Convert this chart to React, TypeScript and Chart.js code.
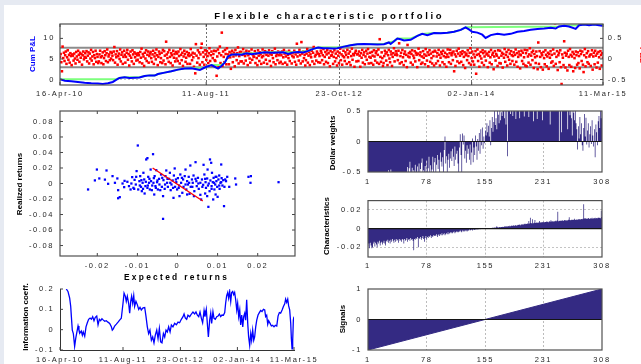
import React, { useEffect, useRef } from 'react';
import { Chart, registerables } from 'chart.js';

Chart.register(...registerables);

// ---------- DATA ----------
const dateLabels = ['16-Apr-10', '11-Aug-11', '23-Oct-12', '02-Jan-14', '11-Mar-15'];
const dateTickDays = [0, 482, 921, 1357, 1790];
const cumTicks = [0, 5, 10];
const pnlTicks = [-0.5, 0, 0.5];

// cumulative P&L: [calendar day, value]
const cumPnl: [number, number][] = [
  [0, 0.05], [16, -0.3], [37, -0.4], [59, -0.6], [81, -0.8], [103, -0.93], [125, -0.95], [141, -1.1], [158, -0.93],
  [174, -0.6], [185, -0.1], [196, 0.37], [213, 0.53], [229, 0.37], [246, 0.45], [262, 0.5], [279, 0.85], [295, 1.0],
  [312, 0.95], [323, 1.34], [345, 1.67], [367, 2.0], [389, 2.4], [411, 2.65], [433, 2.73], [450, 2.5], [461, 2.3],
  [472, 2.73], [483, 3.1], [500, 3.5], [510, 3.1], [521, 2.65], [532, 3.3], [543, 4.1], [554, 5.57], [565, 6.05],
  [582, 6.13], [598, 6.05], [615, 6.4], [631, 6.13], [653, 6.4], [675, 6.6], [697, 6.5], [719, 6.55], [736, 6.6],
  [752, 6.2], [769, 6.6], [785, 6.7], [802, 6.55], [818, 6.95], [835, 7.44], [851, 7.76], [868, 7.6], [884, 7.6],
  [901, 7.55], [914, 7.6], [936, 8.0], [958, 8.33], [980, 8.57], [1002, 8.65], [1024, 8.57], [1046, 8.5], [1068, 8.57],
  [1084, 9.0], [1090, 8.65], [1101, 9.3], [1112, 9.96], [1123, 9.8], [1134, 9.5], [1156, 9.65], [1178, 10.6],
  [1194, 11.1], [1211, 10.8], [1233, 11.3], [1255, 11.25], [1277, 11.4], [1299, 11.6], [1321, 12.07], [1337, 12.7],
  [1348, 12.2], [1359, 11.6], [1376, 11.4], [1392, 10.9], [1403, 10.1], [1420, 10.8], [1442, 11.1], [1464, 10.9],
  [1486, 11.1], [1508, 11.6], [1530, 11.8], [1552, 12.1], [1574, 12.3], [1596, 12.4], [1618, 12.56], [1634, 12.4],
  [1645, 12.9], [1662, 13.05], [1678, 12.9], [1700, 12.3], [1711, 13.2], [1728, 13.37], [1744, 13.2], [1761, 13.4],
  [1777, 13.2], [1788, 13.05],
];

// running high-water mark of the cumulative P&L
const highWater: [number, number][] = [
  [0, 0.05], [185, 0.05], [196, 0.37], [213, 0.53], [262, 0.53], [279, 0.85], [295, 1.0], [312, 1.0], [323, 1.34],
  [345, 1.67], [367, 2.0], [389, 2.4], [411, 2.65], [433, 2.73], [472, 2.73], [483, 3.1], [500, 3.5], [532, 3.5],
  [543, 4.1], [554, 5.57], [565, 6.05], [582, 6.13], [615, 6.4], [653, 6.4], [675, 6.6], [769, 6.6], [785, 6.7],
  [818, 6.95], [835, 7.44], [851, 7.76], [914, 7.76], [936, 8.0], [958, 8.33], [980, 8.57], [1002, 8.65], [1068, 8.65],
  [1084, 9.0], [1101, 9.3], [1112, 9.96], [1156, 9.96], [1178, 10.6], [1194, 11.1], [1233, 11.3], [1277, 11.4],
  [1299, 11.6], [1321, 12.07], [1337, 12.7], [1645, 12.9], [1662, 13.05], [1711, 13.2], [1728, 13.37], [1761, 13.4],
  [1790, 13.4],
];

// daily P&L (right axis), in time order
const dailyPnl: number[] = [
  .05, .12, -.08, -.3, .3, .02, .15, -.05, .09, .18, -.12, .04, .21, -.02, .1, -.09, .14, .07, -.15, .11,
  .08, -.04, .13, .01, -.11, .17, .06, -.02, .2, .1, -.07, .15, .03, .12, -.14, .09, .18, -.01, .05, .14,
  .03, .19, -.06, .08, .16, -.11, .13, .01, .22, -.04, .06, .17, -.13, .09, .02, .2, -.07, .12, .05, -.1,
  -.06, .11, .2, .04, -.1, .07, .16, -.13, .02, .19, .09, -.05, .14, .23, -.08, .06, .11, -.03, .17, .01,
  .15, .08, -.03, .18, .29, -.09, .11, .04, .19, -.14, .07, .13, 0, .23, -.06, .1, .16, -.12, .05, .2,
  .1, -.09, .05, .15, .22, -.02, .12, -.16, .08, .18, .03, -.06, .21, .11, -.12, .16, .04, .13, -.04, .09,
  -.02, .14, .09, -.08, .17, .03, .25, -.11, .12, .06, -.17, .15, .01, .21, -.05, .1, .18, -.09, .07, .13,
  .17, .02, -.07, .11, .2, -.12, .06, .14, -.01, .23, .09, -.15, .05, .18, .12, -.08, .02, .15, -.1, .22,
  -.04, .19, .08, -.13, .42, .11, .02, .16, -.07, .22, .05, -.1, .14, .09, -.16, .2, .03, .12, -.06, .17,
  .01, .13, -.05, .18, .07, -.11, .24, .1, -.03, .15, -.17, .06, .2, .12, -.07, .03, .17, -.12, .09, .14,
  .07, -.12, .24, .1, -.03, .15, .04, -.19, .13, -.35, .36, .08, -.09, .21, .02, .16, -.14, .11, .27, .37,
  -.08, .16, .05, -.14, .21, .11, -.02, .19, .07, -.1, .14, .26, -.05, .09, .18, -.16, .02, .12, .2, -.03,
  -.05, .19, -.41, .06, .23, -.2, .14, .3, -.1, .09, .64, -.17, .18, .05, -.08, .22, .12, -.13, .26, .03,
  .11, -.13, .17, .04, -.24, .13, .2, -.08, .06, .15, -.18, .22, .09, -.03, .14, .28, -.11, .07, .17, -.06,
  .17, -.06, .1, .24, -.11, .15, .07, -.04, .2, .12, -.15, .09, .18, .01, -.09, .14, .23, -.02, .11, .06,
  .05, .19, -.1, .13, .02, -.15, .21, .08, -.05, .16, .11, -.12, .04, .23, .07, -.09, .14, .19, -.02, .1,
  -.12, .16, .08, .21, -.05, .13, -.17, .1, .19, .02, -.08, .15, .25, -.13, .07, .12, -.03, .18, .09, -.1,
  .15, -.07, .09, .18, -.12, .04, .22, .13, -.09, .06, .17, -.14, .1, .02, .2, -.05, .12, .16, -.11, .07,
  .14, .04, .2, -.07, .11, -.14, .37, .06, .16, -.04, .22, .09, -.11, .41, .13, -.06, .18, .02, .1, -.16,
  -.03, .13, .24, -.09, .08, .17, -.15, .11, .04, .2, -.06, .15, .29, -.12, .06, .1, -.04, .18, .13, -.08,
  .12, .07, -.09, .2, .15, -.03, .09, .24, -.13, .05, .17, -.07, .11, .21, -.1, .14, .03, -.18, .19, .08,
  .09, .16, -.12, .05, .21, -.06, .13, .02, -.16, .18, .08, -.1, .15, .25, -.03, .11, -.14, .07, .2, .04,
  -.05, .16, .1, -.12, .22, .04, .13, -.08, .18, -.15, .07, .25, -.02, .12, .09, -.19, .15, .2, -.06, .11,
  .12, -.05, .18, .08, -.19, .14, .03, .22, -.09, .1, .16, -.13, .06, .2, -.02, .13, .24, -.11, .05, .15,
  .03, -.1, .17, .08, -.14, .21, .06, -.04, .14, .19, -.09, .1, .23, -.12, .48, .05, -.07, .16, .02, -.17,
  -.1, .07, .2, .13, -.04, .16, -.15, .09, .22, .01, -.08, .18, .11, -.17, .05, .14, .26, -.06, .1, .19,
  .13, .09, -.03, .2, .38, -.11, .07, .15, -.08, .22, .04, -.15, .12, .18, -.05, .1, -.2, .34, .06, .14,
  .04, .17, -.09, .12, .21, -.14, .08, .02, .19, -.06, .15, .1, -.2, .13, .25, -.03, .09, .16, -.12, .06,
  -.09, .19, .03, .11, -.13, .24, .08, -.04, .16, -.18, .1, .21, -.07, .13, .02, -.11, .17, .07, -.16, .2,
  .18, -.11, .06, .14, -.05, .22, .1, -.16, .03, .17, .12, -.08, .2, .07, -.13, .15, .04, -.19, .11, .23,
  .05, -.08, .14, .22, -.12, .09, .15, -.03, .18, -.3, .11, -.17, .06, .2, -.06, .13, .25, -.1, .08, .16,
  -.07, .12, .19, -.15, .05, .16, -.22, .09, .13, -.03, .21, .07, -.1, .15, .26, -.14, .02, .18, -.06, .11,
  -.14, .04, .19, -.36, .1, .23, -.05, .12, -.19, .07, .17, .01, -.09, .21, .14, -.15, .06, .18, -.04, .11,
  .13, -.2, .08, .17, -.09, .04, .22, -.13, .1, .15, -.25, .06, .19, -.04, .12, .08, -.17, .21, .03, -.1,
  .2, -.11, .08, .15, -.21, .12, .03, .24, -.07, .1, .17, -.16, .05, .22, -.02, .13, -.12, .19, .09, -.05,
  .07, .16, -.14, .1, .23, -.07, .14, -.19, .05, .18, .11, -.23, .09, .2, -.05, .15, -.12, .04, .22, -.16,
  .14, -.18, .21, .06, -.09, .11, .26, -.14, .08, .16, -.03, .2, -.22, .12, .04, -.1, .18, .07, -.25, .4,
  -.12, .19, .05, -.2, .14, .09, -.26, .17, .02, -.13, .21, .1, -.18, .06, .15, -.24, .12, .03, .19, -.09,
  .1, -.06, .23, -.17, .13, .87, -.12, .05, .19, -.27, .09, .15, -.08, .21, -.2, -.61, .11, .03, -.15, .43,
  .15, -.21, .08, .13, -.28, .2, .05, -.15, .24, .1, -.19, .06, .17, -.3, .12, .02, -.22, .18, .09, -.14,
  .16, -.1, .07, -.23, .2, .12, -.05, .18, -.14, -.32, .09, .24, -.18, .04, .14, -.08, .19, -.12, .06, .1,
  -.17, .11, .21, -.26, .06, .15, -.13, .2, .08, -.21, .13, -.09, .17, .04, -.24, .19, .1, -.16, .14, .03,
];
const pnlBands = [0.27, -0.2];

// scatter: [expected return, realized return]
const returnPairs: [number, number][] = [
  [-0.0223, -0.0077], [-0.0201, 0.018], [-0.0195, 0.0065], [-0.0206, 0.004], [-0.0177, 0.0168], [-0.0181, 0.005],
  [-0.0173, -0.0004], [-0.0162, 0.0095], [-0.0156, 0.0009], [-0.015, 0.0065], [-0.0148, -0.0086], [-0.0148, -0.019],
  [-0.0144, -0.0176], [-0.0137, 0], [-0.0133, -0.0047], [-0.0132, 0.0034], [-0.0125, 0.0022], [-0.0121, -0.0034],
  [-0.0117, -0.0077], [-0.0113, 0.0082], [-0.011, -0.0056], [-0.0107, 0.0047], [-0.0104, -0.0013], [-0.0102, 0.016],
  [-0.0099, 0.049], [-0.0098, -0.0077], [-0.0095, 0.003], [-0.0093, 0.0095], [-0.0091, -0.0043], [-0.0089, -0.0099],
  [-0.0087, 0.0009], [-0.0085, 0.0138], [-0.0083, 0.0052], [-0.0082, -0.0129], [-0.008, -0.0034], [-0.0078, 0.031],
  [-0.0075, 0.0327], [-0.0075, -0.0056], [-0.0073, 0.0086], [-0.0071, 0.0009], [-0.0069, -0.0077], [-0.0067, 0.018],
  [-0.0066, 0.003], [-0.0063, -0.0026], [-0.0061, 0.0378], [-0.0059, 0.0069], [-0.0058, -0.0142], [-0.0055, -0.0034],
  [-0.0053, 0.0172], [-0.0051, 0.0017], [-0.0049, -0.0077], [-0.0046, 0.006], [-0.0045, -0.0013], [-0.0041, 0.0116],
  [-0.0039, -0.0043], [-0.0036, -0.0163], [-0.0036, -0.0456], [-0.0035, 0.0043], [-0.0032, -0.0069], [-0.003, 0.0095],
  [-0.0028, 0.0168], [-0.0026, 0.0009], [-0.0024, -0.0043], [-0.0021, 0.006], [-0.0019, 0.0138], [-0.0017, -0.0086],
  [-0.0015, -0.0013], [-0.0012, 0.0039], [-0.001, -0.0185], [-0.0009, 0.0103], [-0.0007, 0.0194], [-0.0006, -0.0043],
  [-0.0003, 0.0017], [-0.0001, -0.0077], [0.0001, 0.0069], [0.0004, -0.0026], [0.0005, -0.0163], [0.0007, 0.0116],
  [0.0009, 0.0009], [0.0012, -0.012], [0.0014, 0.0052], [0.0015, -0.0043], [0.0018, 0.0095], [0.002, 0.018],
  [0.0022, -0.0077], [0.0024, 0.003], [0.0026, -0.0013], [0.0028, 0.0086], [0.003, -0.0133], [0.0032, 0.0232],
  [0.0033, -0.0043], [0.0036, 0.0052], [0.0038, 0.0009], [0.004, 0.0103], [0.0042, -0.0099], [0.0045, 0.0275],
  [0.0047, 0.003], [0.0048, -0.0034], [0.0051, 0.0073], [0.0053, -0.0069], [0.0057, 0.0009], [0.0059, -0.0206],
  [0.0061, 0.0052], [0.0064, -0.0017], [0.0065, 0.0241], [0.0067, 0.0116], [0.007, 0.0017], [0.0071, -0.0056],
  [0.0074, 0.0065], [0.0075, 0.018], [0.0077, -0.0301], [0.0078, 0], [0.008, -0.0099], [0.0081, 0.031],
  [0.0082, 0.0039], [0.0084, 0.0267], [0.0085, -0.0034], [0.0086, 0.0138], [0.0088, 0.0017], [0.0089, -0.0206],
  [0.009, 0.0073], [0.0092, -0.0077], [0.0094, -0.0013], [0.0095, 0.0086], [0.0097, 0.003], [0.0099, -0.0043],
  [0.01, -0.0172], [0.0102, 0.0052], [0.0104, 0.0103], [0.0105, -0.0069], [0.0107, 0.0009], [0.0109, 0.0245],
  [0.011, 0.0069], [0.0112, -0.0026], [0.0114, 0.0043], [0.0116, -0.0292], [0.0117, -0.0043], [0.0121, 0.003],
  [0.0124, 0.0086], [0.0129, -0.0043], [0.0144, 0.0065], [0.0146, -0.0013], [0.0177, 0.0086], [0.0183, 0.0095],
  [0.0182, 0.0009], [0.0252, 0.0017],
  [-0.0115, 0], [-0.0108, -0.0069], [-0.0103, 0.0086], [-0.0094, -0.0026], [-0.009, 0.0043], [-0.0086, -0.0069],
  [-0.0079, 0.0022], [-0.0074, -0.0026], [-0.007, 0.006], [-0.0064, -0.0086], [-0.006, 0.0009], [-0.0057, 0.0095],
  [-0.0054, -0.0056], [-0.005, 0.0039], [-0.0043, -0.0086], [-0.0038, 0.0073], [-0.0031, -0.0013], [-0.0025, 0.006],
  [-0.0018, 0.0009], [-0.0011, -0.0056], [-0.0004, 0.0052], [0.0003, -0.0056], [0.0011, 0.0073], [0.002, -0.0013],
  [0.0029, 0.0009], [0.0037, -0.0043], [0.0045, 0.006], [0.0052, 0], [0.0062, -0.0043], [0.0069, 0.006],
  [0.0076, -0.0026], [0.0085, -0.0069], [0.0091, 0.0009], [0.0097, 0.0086], [0.0104, -0.0026], [0.0109, 0.0017],
  [0.0119, 0.0052], [0.0069, -0.0129], [0.0057, -0.0146], [0.0041, -0.0163], [0.0024, -0.0142], [0.0074, -0.0163],
  [0.0095, -0.0142],
];
const fitLine: [number, number][] = [[-0.0062, 0.02], [0.0063, -0.0226]];
const expTicks = [-0.02, -0.01, 0, 0.01, 0.02];
const realTicks = [-0.08, -0.06, -0.04, -0.02, 0, 0.02, 0.04, 0.06, 0.08];

const rankTicks = [1, 78, 155, 231, 308];
const dollarWeights: number[] = [
  -0.62, -0.55, -0.71, -0.58, -0.66, -0.52, -0.6, -0.74, -0.57, -0.63, -0.69, -0.54, -0.61, -0.58, -0.77, -0.56, -0.64, -0.59, -0.68, -0.53, -0.6, -0.66,
  -0.58, -0.63, -0.55, -0.6, -0.52, -0.47, -0.61, -0.56, -0.46, -0.64, -0.59, -0.53, -0.67, -0.57, -0.62, -0.55, -0.6, -0.51, -0.65, -0.58, -0.54, -0.6,
  -0.57, -0.62, -0.53, -0.6, -0.55, -0.66, -0.5, -0.58, -0.42, -0.52, -0.44, -0.33, -0.56, -0.61, -0.43, -0.52, -0.47, -0.6, -0.38, -0.55, -0.5, -0.41,
  -0.58, -0.36, -0.5, -0.45, -0.35, -0.28, -0.52, -0.47, -0.6, -0.4, -0.55, -0.31, -0.5, -0.44, -0.25, -0.58, -0.39, -0.5, -0.46, -0.25, -0.53, -0.34,
  -0.27, -0.5, -0.38, -0.22, -0.45, -0.3, -0.52, -0.18, -0.33, -0.41, -0.26, -0.5, -0.14, 0.08, -0.36, -0.24, -0.55, -0.3, -0.2, -0.43, -0.28, -0.16,
  -0.32, -0.12, -0.25, -0.4, -0.08, -0.3, -0.2, -0.15, -0.36, -0.55, -0.1, 0.12, -0.22, -0.6, 0.13, -0.05, 0.1, -0.28, -0.15, -0.35, -0.06, -0.2,
  -0.12, -0.3, -0.05, -0.38, -0.18, 0.05, -0.34, -0.1, -0.22, 0.1, -0.08, -0.3, 0.04, -0.15, 0.14, -0.2, 0.2, -0.06, 0.23, -0.12, 0.08, -0.03,
  0.18, 0.1, 0.3, 0.15, 0.26, 0.08, 0.35, -0.06, 0.22, 0.4, 0.16, 0.32, 0.5, 0.27, 0.38, 0.2, 0.56, 0.44, 0.3, 0.6, 0.35, 0.48,
  0.42, 0.6, 0.52, 0.38, 0.66, 0.28, 0.55, -0.24, 0.58, 0.63, 0.5, 0.45, 0.7, 0.58, 0.42, 0.62, 0.55, 0.62, 0.37, 0.6, 0.52, 0.65,
  0.6, 0.38, 0.6, 0.65, 0.55, 0.55, 0.72, 0.41, 0.65, 0.6, 0.52, 0.68, 0.58, 0.4, 0.63, 0.55, 0.7, 0.56, 0.62, 0.33, 0.59, 0.56,
  0.65, 0.6, 0.37, 0.52, 0.68, 0.7, 0.61, 0.55, 0.5, 0.35, 0.63, 0.66, 0.58, 0.6, 0.52, 0.66, 0.64, 0.5, 0.57, 0.28, 0.61, 0.67,
  0.55, 0.62, 0.68, 0.5, 0.66, 0.6, 0.58, 0.53, 0.69, -0.01, 0.57, 0.64, 0.15, 0.62, 0.58, 0.55, 0.6, 0.66, 0.51, 0.65, 0.2, 0.58,
  0.5, 0.43, 0.6, 0.38, 0.1, 0.52, 0.47, 0.35, 0.58, 0.3, 0.2, -0.13, 0.25, 0.05, 0.4, 0.12, 0.3, -0.06, -0.15, 0.22, 0.45, 0.08,
  0.39, -0.05, 0.18, 0.3, -0.1, 0.12, 0.25, -0.04, 0.35, 0.1, -0.08, 0.2, -0.26, 0.28, 0.15, -0.06, 0.33, 0.42, 0.22, 0.5, 0.38, 0.55,
];
const characteristics: number[] = [
  -0.019, -0.016, -0.021, -0.015, -0.018, -0.021, -0.02, -0.016, -0.014, -0.019, -0.015, -0.017, -0.02, -0.014, -0.016, -0.013, -0.018, -0.015, -0.014, -0.017, -0.015, -0.013,
  -0.016, -0.018, -0.013, -0.014, -0.012, -0.015, -0.013, -0.016, -0.012, -0.014, -0.011, -0.013, -0.015, -0.012, -0.014, -0.011, -0.013, -0.012, -0.015, -0.011, -0.013, -0.012,
  -0.014, -0.011, -0.012, -0.016, -0.011, -0.013, -0.012, -0.01, -0.014, -0.012, -0.011, -0.013, -0.01, -0.012, -0.011, -0.013, -0.023, -0.011, -0.012, -0.01, -0.011, -0.009,
  -0.02, -0.01, -0.011, -0.009, -0.012, -0.01, -0.008, -0.011, -0.014, -0.01, -0.008, -0.012, -0.009, -0.01, -0.008, -0.009, -0.007, -0.01, -0.008, -0.009, -0.007, -0.008,
  -0.007, -0.008, -0.006, -0.009, -0.007, -0.006, -0.008, -0.006, -0.007, -0.005, -0.007, -0.006, -0.005, -0.007, -0.006, -0.005, -0.006, -0.004, -0.006, -0.005, -0.004, -0.005,
  -0.004, -0.005, -0.004, -0.003, -0.005, -0.004, -0.003, -0.004, -0.003, -0.004, -0.003, -0.002, -0.003, -0.004, -0.002, -0.003, -0.002, -0.003, -0.002, -0.002, -0.003, -0.002,
  -0.002, -0.001, -0.002, -0.0015, -0.001, -0.002, -0.001, -0.001, -0.0015, -0.001, -0.0008, -0.001, -0.0006, -0.0008, -0.0005, -0.0006, -0.0004, -0.0003, -0.0004, -0.0002, -0.0002, -0.0001,
  0.0001, 0.0002, 0.0003, 0.0004, 0.0003, 0.0005, 0.0006, 0.0005, 0.0007, 0.0008, 0.001, 0.0008, 0.0012, 0.001, 0.0013, 0.0026, 0.0014, 0.0012, 0.0015, 0.0017, 0.0014, 0.0018,
  0.0016, 0.002, 0.0018, 0.0022, 0.0026, 0.002, 0.0024, 0.0022, 0.0027, 0.0023, 0.003, 0.0026, 0.0029, 0.0032, 0.0027, 0.0035, 0.003, 0.0033, 0.0037, 0.0031, 0.0036, 0.004,
  0.0038, 0.0042, 0.0036, 0.0045, 0.004, 0.0047, 0.0043, 0.005, 0.0045, 0.0052, 0.0048, 0.0055, 0.005, 0.008, 0.0053, 0.0115, 0.0058, 0.0054, 0.01, 0.0057, 0.0062, 0.009,
  0.006, 0.0065, 0.0058, 0.0068, 0.0063, 0.008, 0.0066, 0.0062, 0.007, 0.0067, 0.0073, 0.0065, 0.0071, 0.0069, 0.0076, 0.007, 0.0074, 0.0068, 0.0078, 0.0072, 0.0088, 0.0075,
  0.0077, 0.0073, 0.008, 0.0076, 0.0082, 0.0078, 0.0085, 0.018, 0.0079, 0.0084, 0.008, 0.0087, 0.0083, 0.0089, 0.0081, 0.0086, 0.0092, 0.0088, 0.0084, 0.009, 0.0087, 0.0093,
  0.012, 0.0091, 0.0088, 0.0094, 0.009, 0.0096, 0.0092, 0.0105, 0.0095, 0.0091, 0.0098, 0.0094, 0.01, 0.0096, 0.0102, 0.0097, 0.0101, 0.0099, 0.0104, 0.026, 0.0106, 0.0113,
  0.0101, 0.0108, 0.0104, 0.0112, 0.0106, 0.0103, 0.011, 0.0107, 0.0114, 0.0105, 0.0111, 0.0109, 0.0116, 0.0108, 0.0113, 0.011, 0.0118, 0.0112, 0.0115, 0.0111, 0.019, 0.0122,
];
const weightTicks = [-0.5, 0, 0.5];
const charTicks = [-0.02, 0, 0.02];
const signalEnds: [number, number][] = [[1, -1], [308, 1]];
const signalTicks = [-1, 0, 1];

// information coefficient: [calendar day, value]
const infoCoeff: [number, number][] = [
  [48, 0.2], [61, 0.188], [74, 0.155], [82, 0.114], [87, 0.064], [94, -0.002], [102, -0.019], [112, -0.082], [120, -0.044],
  [127, -0.019], [138, 0.018], [145, -0.002], [153, -0.016], [163, -0.007], [171, -0.027], [178, -0.011], [189, -0.032],
  [199, 0.014], [209, 0.034], [219, 0.051], [230, 0.057], [240, 0.051], [250, 0.064], [260, 0.044], [270, 0.061],
  [281, 0.067], [291, 0.024], [301, 0.051], [311, 0.044], [321, 0.054], [332, 0.047], [342, 0.041], [354, 0.044],
  [367, 0.037], [380, 0.031], [393, 0.014], [400, -0.002], [408, 0.004], [418, 0.018], [431, 0.027], [444, 0.037],
  [456, 0.047], [469, 0.056], [482, 0.13], [490, 0.18], [500, 0.164], [507, 0.139], [515, 0.164], [525, 0.13],
  [533, 0.081], [541, 0.139], [548, 0.164], [556, 0.13], [564, 0.167], [571, 0.114], [581, 0.139], [592, 0.122],
  [602, 0.1], [612, 0.11], [622, 0.097], [635, 0.107], [648, 0.109], [658, 0.064], [668, 0.014], [678, -0.019],
  [688, -0.002], [699, -0.052], [709, -0.036], [719, -0.065], [729, -0.027], [740, -0.002], [750, -0.044], [760, 0.006],
  [770, -0.06], [780, -0.065], [791, -0.019], [801, -0.036], [811, -0.002], [821, -0.011], [831, 0.014], [842, -0.011],
  [852, 0.023], [864, 0.014], [877, 0.031], [890, 0.024], [903, 0.037], [915, 0.034], [928, 0.051], [941, 0.064],
  [949, 0.077], [959, 0.057], [969, 0.051], [979, 0.071], [992, 0.064], [1005, 0.077], [1017, 0.087], [1030, 0.077],
  [1040, 0.087], [1051, 0.071], [1061, 0.064], [1071, 0.087], [1081, 0.057], [1091, 0.034], [1102, 0.094], [1109, 0.064],
  [1119, 0.1], [1127, 0.031], [1135, -0.036], [1145, 0.047], [1153, 0.081], [1160, 0.031], [1170, 0.089], [1178, 0.056],
  [1188, 0.051], [1199, 0.064], [1209, 0.067], [1219, 0.077], [1229, 0.064], [1239, 0.072], [1250, 0.071], [1260, 0.084],
  [1267, 0.13], [1275, 0.167], [1283, 0.183], [1290, 0.155], [1298, 0.188], [1306, 0.139], [1313, 0.183], [1321, 0.188],
  [1329, 0.172], [1336, 0.183], [1344, 0.147], [1352, 0.097], [1359, 0.13], [1367, 0.064], [1375, 0.097], [1382, 0.023],
  [1390, 0.072], [1398, 0.014], [1405, 0.064], [1413, 0.081], [1420, 0.047], [1428, 0.147], [1436, 0.031], [1443, -0.036],
  [1451, -0.077], [1459, -0.019], [1466, -0.052], [1474, -0.002], [1482, -0.052], [1489, -0.036], [1497, 0.014],
  [1505, 0.047], [1515, 0.072], [1525, 0.084], [1535, 0.094], [1545, 0.089], [1556, 0.1], [1566, 0.097], [1573, 0.064],
  [1581, 0.071], [1589, 0.027], [1596, 0.044], [1607, 0.031], [1617, 0.018], [1627, 0.021], [1637, 0.014], [1647, 0.021],
  [1658, 0.018], [1668, 0.067], [1678, 0.084], [1688, 0.081], [1699, 0.097], [1709, 0.114], [1719, 0.127], [1726, 0.15],
  [1734, 0.134], [1742, 0.15], [1749, 0.117], [1757, 0.097], [1765, 0.031], [1770, -0.044], [1775, -0.094],
  [1780, -0.052], [1785, 0.047], [1790, 0.064],
];
const icTicks = [-0.1, 0, 0.1, 0.2];

// ---------- STYLE / HELPERS ----------
const FAMILY = '"Liberation Sans", Arial, Helvetica, sans-serif';
const tickFont = { family: FAMILY, size: 7.5 };
const TICK_COLOR = '#262626';
const NAVY = '#342a83';
const LAST_DAY = dateTickDays[dateTickDays.length - 1];

const fixedTicks = (values: number[]) => (scale: any) => {
  scale.ticks = values.map((v) => ({ value: v }));
};
const fixWidth = (w: number) => (scale: any) => {
  scale.width = w;
};
const fixHeight = (h: number) => (scale: any) => {
  scale.height = h;
};
const numLabel = (v: any) => (v === 0 ? '0' : String(v));
const pts = (arr: [number, number][]) => arr.map(([x, y]) => ({ x, y }));

const letterSpacingPlugin = {
  id: 'letterSpacing',
  beforeUpdate(chart: any) {
    chart.ctx.letterSpacing = '1.6px';
  },
  beforeDraw(chart: any) {
    chart.ctx.letterSpacing = '1.6px';
  },
};

const framePlugin = {
  id: 'frame',
  afterDatasetsDraw(chart: any, _args: any, opts: any) {
    const { left, top, right, bottom } = chart.chartArea;
    const ctx = chart.ctx;
    ctx.save();
    const line = (x1: number, y1: number, x2: number, y2: number) => {
      ctx.beginPath();
      ctx.moveTo(x1, y1);
      ctx.lineTo(x2, y2);
      ctx.stroke();
    };
    if (opts.zeroAxis) {
      const y = chart.scales[opts.zeroAxis].getPixelForValue(0);
      ctx.strokeStyle = '#141414';
      ctx.lineWidth = 1.2;
      line(left, y, right, y);
    }
    if (opts.ticks) {
      ctx.strokeStyle = '#444';
      ctx.lineWidth = 1;
      const L = 3;
      Object.keys(chart.scales).forEach((id) => {
        const s = chart.scales[id];
        s.ticks.forEach((t: any) => {
          if (s.isHorizontal()) {
            const x = s.getPixelForValue(t.value);
            line(x, bottom, x, bottom - L);
            if (opts.box) line(x, top, x, top + L);
          } else {
            const y = s.getPixelForValue(t.value);
            if (s.position === 'left') {
              line(left, y, left + L, y);
              if (opts.bothSides) line(right, y, right - L, y);
            } else {
              line(right, y, right - L, y);
            }
          }
        });
      });
    }
    if (opts.box) {
      ctx.strokeStyle = '#505050';
      ctx.lineWidth = 1.2;
      ctx.strokeRect(left, top, right - left, bottom - top);
    }
    ctx.restore();
  },
};

const baseOptions = (padding: any, frame: any) => ({
  responsive: false,
  animation: false as const,
  devicePixelRatio: 1,
  layout: { padding },
  plugins: { legend: { display: false }, tooltip: { enabled: false }, frame },
});

const tickOpts = (padding: number, callback: any) => ({
  font: tickFont,
  color: TICK_COLOR,
  padding,
  autoSkip: false,
  maxRotation: 0,
  minRotation: 0,
  callback,
});

// ---------- CONFIGS ----------
const topConfig = () => ({
  type: 'line',
  data: {
    datasets: [
      { data: pts(cumPnl), yAxisID: 'yL', borderColor: '#0000ff', borderWidth: 2, pointRadius: 0 },
      { data: pts(highWater), yAxisID: 'yL', borderColor: '#7dff7d', borderWidth: 2, pointRadius: 0 },
      {
        data: dailyPnl.map((y, i) => ({ x: (i * LAST_DAY) / (dailyPnl.length - 1), y })),
        yAxisID: 'yR',
        showLine: false,
        pointStyle: 'rect',
        pointRadius: 1.8,
        pointBackgroundColor: '#ff0000',
        pointBorderColor: '#ff0000',
        pointBorderWidth: 0,
      },
      ...pnlBands.map((b) => ({
        data: [{ x: 0, y: b }, { x: LAST_DAY, y: b }],
        yAxisID: 'yR',
        borderColor: '#8c8c8c',
        borderWidth: 2,
        pointRadius: 0,
      })),
    ],
  },
  options: {
    ...baseOptions({ top: 24, left: 0, right: 0, bottom: 0 }, { box: true, ticks: true }),
    scales: {
      x: {
        type: 'linear',
        min: 0,
        max: LAST_DAY,
        afterBuildTicks: fixedTicks(dateTickDays),
        afterFit: fixHeight(15),
        ticks: tickOpts(4.3, (_v: any, i: number) => dateLabels[i]),
        grid: {
          drawTicks: false,
          color: (c: any) => (c.index > 0 && c.index < dateTickDays.length - 1 ? '#6e6e6e' : 'transparent'),
        },
        border: { display: false, dash: [2, 2] },
      },
      yL: {
        type: 'linear',
        position: 'left',
        min: -1.34,
        max: 13.5,
        afterBuildTicks: fixedTicks(cumTicks),
        afterFit: fixWidth(60),
        ticks: tickOpts(5.1, (v: any) => String(v)),
        grid: { drawTicks: false, color: (c: any) => (c.tick && c.tick.value === 0 ? '#c4c4c4' : 'transparent') },
        border: { display: false, dash: [2, 2] },
      },
      yR: {
        type: 'linear',
        position: 'right',
        min: -0.634,
        max: 0.85,
        afterBuildTicks: fixedTicks(pnlTicks),
        afterFit: fixWidth(38),
        ticks: tickOpts(4.7, numLabel),
        grid: { display: false, drawTicks: false },
        border: { display: false },
      },
    },
  },
  plugins: [letterSpacingPlugin, framePlugin],
});

const scatterConfig = () => ({
  type: 'scatter',
  data: {
    datasets: [
      { data: pts(fitLine), showLine: true, borderColor: '#ff0000', borderWidth: 1.4, pointRadius: 0 },
      {
        data: pts(returnPairs),
        pointStyle: 'rect',
        pointRadius: 1.6,
        pointBackgroundColor: '#0000ff',
        pointBorderColor: '#0000ff',
        pointBorderWidth: 0,
      },
    ],
  },
  options: {
    ...baseOptions({ top: 11, right: 15, left: 0, bottom: 0 }, { box: true, ticks: true, bothSides: true }),
    scales: {
      x: {
        type: 'linear',
        min: -0.0293,
        max: 0.0293,
        afterBuildTicks: fixedTicks(expTicks),
        afterFit: fixHeight(29),
        ticks: tickOpts(5.3, numLabel),
        grid: { display: false, drawTicks: false },
        border: { display: false },
      },
      y: {
        type: 'linear',
        min: -0.0935,
        max: 0.0935,
        afterBuildTicks: fixedTicks(realTicks),
        afterFit: fixWidth(60),
        ticks: tickOpts(6, numLabel),
        grid: { display: false, drawTicks: false },
        border: { display: false },
      },
    },
  },
  plugins: [letterSpacingPlugin, framePlugin],
});

const rankXScale = (axisH: number, pad: number) => ({
  type: 'linear',
  min: 1,
  max: 308,
  offset: false,
  afterBuildTicks: fixedTicks(rankTicks),
  afterFit: fixHeight(axisH),
  ticks: tickOpts(pad, (v: any) => String(v)),
  grid: {
    offset: false,
    drawTicks: false,
    color: (c: any) => (c.index > 0 && c.index < rankTicks.length - 1 ? '#bcbcbc' : 'transparent'),
  },
  border: { display: false, dash: [2, 2] },
});

const valueYScale = (min: number, max: number, ticks: number[]) => ({
  type: 'linear',
  min,
  max,
  afterBuildTicks: fixedTicks(ticks),
  afterFit: fixWidth(58),
  ticks: tickOpts(6.1, numLabel),
  grid: {
    drawTicks: false,
    color: (c: any) => (c.tick && c.tick.value !== 0 && c.tick.value > min && c.tick.value < max ? '#c4c4c4' : 'transparent'),
  },
  border: { display: false, dash: [2, 2] },
});

// bar panels: one bar per stock, drawn as a stepped (bar-outline) area filled to zero
const barConfig = (values: number[], min: number, max: number, ticks: number[], padTop: number, axisH: number, labelPad: number) => () => ({
  type: 'line',
  data: {
    datasets: [
      {
        data: values.map((y, i) => ({ x: i + 1, y })),
        stepped: 'middle',
        fill: 'origin',
        backgroundColor: NAVY,
        borderColor: 'rgba(0,0,0,0)',
        borderWidth: 0,
        pointRadius: 0,
      },
    ],
  },
  options: {
    ...baseOptions({ top: padTop, right: 39, left: 0, bottom: 0 }, { box: true, zeroAxis: 'y' }),
    scales: { x: rankXScale(axisH, labelPad), y: valueYScale(min, max, ticks) },
  },
  plugins: [letterSpacingPlugin, framePlugin],
});

const signalConfig = () => ({
  type: 'line',
  data: {
    datasets: [
      {
        data: pts(signalEnds),
        fill: 'origin',
        backgroundColor: NAVY,
        borderColor: NAVY,
        borderWidth: 1,
        pointRadius: 0,
      },
    ],
  },
  options: {
    ...baseOptions({ top: 14, right: 39, left: 0, bottom: 0 }, { box: true, zeroAxis: 'y' }),
    scales: { x: rankXScale(14, 5), y: valueYScale(-1, 1, signalTicks) },
  },
  plugins: [letterSpacingPlugin, framePlugin],
});

const icConfig = () => ({
  type: 'line',
  data: {
    datasets: [{ data: pts(infoCoeff), borderColor: '#0000ff', borderWidth: 1.3, pointRadius: 0 }],
  },
  options: {
    ...baseOptions({ top: 14, right: 36, left: 0, bottom: 0 }, { box: false, ticks: true }),
    scales: {
      x: {
        type: 'linear',
        min: 0,
        max: LAST_DAY,
        afterBuildTicks: fixedTicks(dateTickDays),
        afterFit: fixHeight(14),
        ticks: tickOpts(5, (_v: any, i: number) => dateLabels[i]),
        grid: { display: false, drawTicks: false },
        border: { display: true, color: '#333', width: 1 },
      },
      y: {
        type: 'linear',
        min: -0.1,
        max: 0.2,
        afterBuildTicks: fixedTicks(icTicks),
        afterFit: fixWidth(60),
        ticks: tickOpts(5.7, numLabel),
        grid: { display: false, drawTicks: false },
        border: { display: true, color: '#333', width: 1 },
      },
    },
  },
  plugins: [letterSpacingPlugin, framePlugin],
});

// ---------- COMPONENTS ----------
function ChartCanvas(props: { left: number; top: number; width: number; height: number; config: () => any }) {
  const ref = useRef<HTMLCanvasElement>(null);
  useEffect(() => {
    const chart = new Chart(ref.current as HTMLCanvasElement, props.config() as any);
    return () => chart.destroy();
  }, []);
  return (
    <canvas
      ref={ref}
      width={props.width}
      height={props.height}
      style={{ position: 'absolute', left: props.left, top: props.top, width: props.width, height: props.height }}
    />
  );
}

function Label(props: {
  text: string;
  x: number;
  y: number;
  rot?: number;
  size?: number;
  spacing?: number;
  color?: string;
}) {
  const { text, x, y, rot = 0, size = 8, spacing = 0, color = '#000' } = props;
  return (
    <div
      style={{
        position: 'absolute',
        left: x,
        top: y,
        transform: `translate(-50%, -50%) rotate(${rot}deg)`,
        whiteSpace: 'nowrap',
        fontFamily: FAMILY,
        fontWeight: 'bold',
        fontSize: size,
        letterSpacing: spacing,
        lineHeight: 1,
        color,
      }}
    >
      {text}
    </div>
  );
}

export default function App() {
  return (
    <div
      style={{
        position: 'fixed',
        left: 0,
        top: 0,
        width: 641,
        height: 364,
        overflow: 'hidden',
        background: '#e6eaf2',
      }}
    >
      <div style={{ position: 'absolute', left: 4, top: 5, width: 637, height: 359, background: '#ffffff' }} />
      <ChartCanvas left={0} top={0} width={641} height={100} config={topConfig} />
      <ChartCanvas left={0} top={100} width={310} height={185} config={scatterConfig} />
      <ChartCanvas left={310} top={100} width={331} height={90} config={barConfig(dollarWeights, -0.5, 0.5, weightTicks, 11, 18, 5.5)} />
      <ChartCanvas left={310} top={190} width={331} height={85} config={barConfig(characteristics, -0.0303, 0.0298, charTicks, 6, 18, 4.5)} />
      <ChartCanvas left={310} top={275} width={331} height={89} config={signalConfig} />
      <ChartCanvas left={0} top={275} width={330} height={89} config={icConfig} />

      <Label text="Flexible characteristic portfolio" x={329.3} y={16} size={9.5} spacing={2.7} />
      <Label text="Expected returns" x={176.5} y={277} size={8.4} spacing={2.3} />
      <Label text="Cum P&L" x={32.7} y={54} rot={-90} color="#0000ff" />
      <Label text="P&L" x={642} y={55} rot={90} color="#ff0000" />
      <Label text="Realized returns" x={20.3} y={184} rot={-90} />
      <Label text="Dollar weights" x={333.3} y={142.5} rot={-90} />
      <Label text="Characteristics" x={326.7} y={226} rot={-90} />
      <Label text="Signals" x={342.5} y={319} rot={-90} />
      <Label text="Information coeff." x={25.5} y={317} rot={-90} />
    </div>
  );
}
